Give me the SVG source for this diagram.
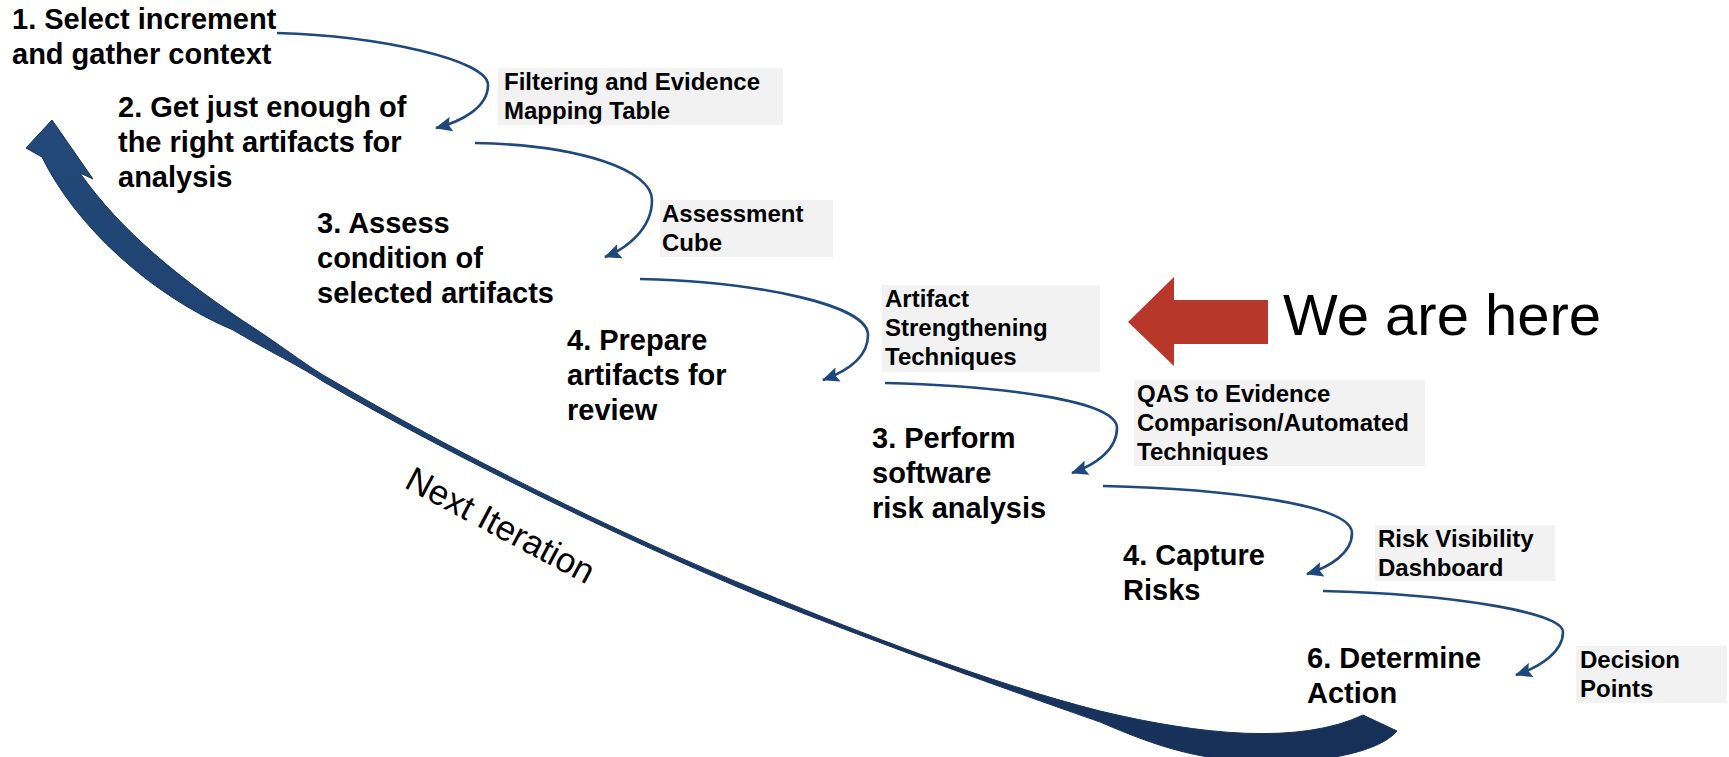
<svg xmlns="http://www.w3.org/2000/svg" width="1729" height="757" viewBox="0 0 1729 757">
  <style>
    .step { font-family: "Liberation Sans", Arial, sans-serif; font-weight: bold; font-size: 29px; fill: #000; }
    .lbl { font-family: "Liberation Sans", Arial, sans-serif; font-weight: bold; font-size: 24px; fill: #000; }
    .lblbox { fill: #f2f2f2; }
    .conn { fill: none; stroke: #1f497d; stroke-width: 2.6; marker-end: url(#ah); }
  </style>
  <defs>
    <marker id="ah" markerUnits="userSpaceOnUse" markerWidth="17" markerHeight="15" viewBox="0 0 17 15" refX="16" refY="7.5" orient="auto">
      <path d="M0,0 L17,7.5 L0,15 L3,7.5 z" fill="#1f497d"/>
    </marker>
    <linearGradient id="bigGrad" x1="0" y1="0" x2="1" y2="1">
      <stop offset="0" stop-color="#22497a"/>
      <stop offset="1" stop-color="#162f56"/>
    </linearGradient>
  </defs>
  <rect width="1729" height="757" fill="#ffffff"/>

  <!-- big return arrow -->
  <g id="next-iteration-arrow">
    <path d="M52,120 L93,179 L80,173 C120,230 180,280 257,330 C290,352 310,368 330,379 C450,450 620,535 759,591 C860,633 990,683 1100,711 C1200,735 1300,745 1363,715 L1397,731 C1380,752 1320,764 1260,762 C1200,760 1160,748 1100,722 C1020,694 890,648 759,596 C620,538 450,455 324,382 C300,366 270,352 233,330 C150,295 75,225 42,157 L26,148 Z" fill="url(#bigGrad)" stroke="#173259" stroke-width="1"/>
    <text transform="translate(403,487) rotate(28)" font-family="Liberation Sans, Arial, sans-serif" font-size="35" fill="#000">Next Iteration</text>
  </g>

  <!-- connectors -->
  <g id="connectors">
    <path class="conn" d="M277,33 C380,36 488,60 488,85 C488,108 460,122 436,128"/>
    <path class="conn" d="M475,143 C580,145 652,170 652,200 C652,228 628,248 605,257"/>
    <path class="conn" d="M640,279 C760,282 868,305 868,335 C868,358 845,372 823,380"/>
    <path class="conn" d="M885,383 C1000,386 1117,400 1117,428 C1117,450 1095,465 1072,473"/>
    <path class="conn" d="M1103,486 C1230,489 1352,505 1352,533 C1352,553 1330,567 1307,574"/>
    <path class="conn" d="M1323,591 C1450,594 1563,612 1563,632 C1563,652 1540,667 1516,675"/>
  </g>

  <!-- step nodes -->
  <g id="step1"><text class="step" x="12" y="29">1. Select increment</text><text class="step" x="12" y="64">and gather context</text></g>
  <g id="step2"><text class="step" x="118" y="117">2. Get just enough of</text><text class="step" x="118" y="152">the right artifacts for</text><text class="step" x="118" y="187">analysis</text></g>
  <g id="step3"><text class="step" x="317" y="233">3. Assess</text><text class="step" x="317" y="268">condition of</text><text class="step" x="317" y="303">selected artifacts</text></g>
  <g id="step4"><text class="step" x="567" y="350">4. Prepare</text><text class="step" x="567" y="385">artifacts for</text><text class="step" x="567" y="420">review</text></g>
  <g id="step5"><text class="step" x="872" y="448">3. Perform</text><text class="step" x="872" y="483">software</text><text class="step" x="872" y="518">risk analysis</text></g>
  <g id="step6"><text class="step" x="1123" y="565">4. Capture</text><text class="step" x="1123" y="600">Risks</text></g>
  <g id="step7"><text class="step" x="1307" y="668">6. Determine</text><text class="step" x="1307" y="703">Action</text></g>

  <!-- technique labels -->
  <g id="label1"><rect class="lblbox" x="498" y="68" width="285" height="57"/><text class="lbl" x="504" y="90">Filtering and Evidence</text><text class="lbl" x="504" y="119">Mapping Table</text></g>
  <g id="label2"><rect class="lblbox" x="660" y="200" width="173" height="57"/><text class="lbl" x="662" y="222">Assessment</text><text class="lbl" x="662" y="251">Cube</text></g>
  <g id="label3"><rect class="lblbox" x="882" y="285" width="218" height="87"/><text class="lbl" x="885" y="307">Artifact</text><text class="lbl" x="885" y="336">Strengthening</text><text class="lbl" x="885" y="365">Techniques</text></g>
  <g id="label4"><rect class="lblbox" x="1134" y="380" width="291" height="86"/><text class="lbl" x="1137" y="402">QAS to Evidence</text><text class="lbl" x="1137" y="431">Comparison/Automated</text><text class="lbl" x="1137" y="460">Techniques</text></g>
  <g id="label5"><rect class="lblbox" x="1375" y="525" width="180" height="56"/><text class="lbl" x="1378" y="547">Risk Visibility</text><text class="lbl" x="1378" y="576">Dashboard</text></g>
  <g id="label6"><rect class="lblbox" x="1576" y="646" width="151" height="57"/><text class="lbl" x="1580" y="668">Decision</text><text class="lbl" x="1580" y="697">Points</text></g>

  <!-- we are here -->
  <g id="we-are-here">
    <polygon points="1128,322 1174,277 1174,300 1268,300 1268,344 1174,344 1174,366" fill="#b8372b"/>
    <text x="1283" y="335" font-family="Liberation Sans, Arial, sans-serif" font-size="58" fill="#000">We are here</text>
  </g>
</svg>
